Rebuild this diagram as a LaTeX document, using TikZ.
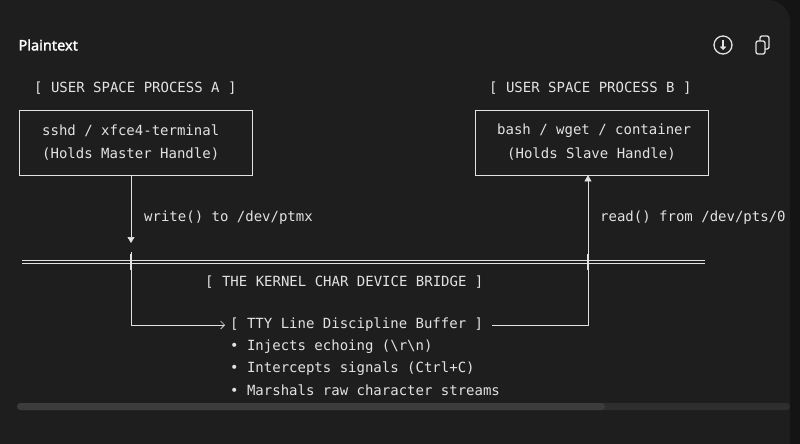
\documentclass[tikz,border=0pt]{standalone}
\usepackage{fontspec}
\setmonofont{DejaVu Sans Mono}
\newfontfamily\uifont{Noto Sans}[FakeBold=1.6]
\usetikzlibrary{arrows.meta,positioning}
\definecolor{panelbg}{HTML}{1E1E1E}
\definecolor{outerbg}{HTML}{141414}
\definecolor{ink}{HTML}{E2E2E2}
\definecolor{barbg}{HTML}{2E2E2E}
\definecolor{barthumb}{HTML}{3C3C3C}
\begin{document}
\begin{tikzpicture}[x=1pt,y=-1pt,
    mono/.style={text=ink,font=\ttfamily\fontsize{14}{16}\selectfont,inner sep=0pt,anchor=west},
    box/.style={draw=ink,line width=0.7pt,minimum width=233pt,minimum height=65pt,inner sep=0pt},
    wire/.style={draw=ink,line width=0.7pt},
    rail/.style={draw=ink,line width=0.6pt}]
    \useasboundingbox (0,0) rectangle (800,444);
    \fill[outerbg] (0,0) rectangle (800,444);
    \fill[panelbg,rounded corners=22pt] (-30,0) rectangle (790,470);

    \node[anchor=west,text=white,font=\uifont\fontsize{14.5}{16}\selectfont] (title) at (15,45) {Plaintext};
    % header icons
    \draw[ink,line width=1.3pt] (723,45) circle (9pt);
    \draw[ink,line width=1.3pt,-{Straight Barb[length=2.5pt]}] (723,40) -- (723,50);
    \draw[ink,line width=1.3pt,rounded corners=2pt] (756,41) rectangle (765,54);
    \draw[ink,line width=1.3pt,rounded corners=2pt] (760,41) -- (760,36) -- (769,36) -- (769,49) -- (765,49);

    % processes
    \node[mono] (procA) at (34,88) {[ USER SPACE PROCESS A ]};
    \node[mono] (procB) at (489,88) {[ USER SPACE PROCESS B ]};
    \node[box] (boxA) at (135.5,142.5) {};
    \node[box] (boxB) at (591.5,142.5) {};
    \node[mono] (lineA1) at (42,131) {sshd / xfce4-terminal};
    \node[mono] (lineA2) at (42,154) {(Holds Master Handle)};
    \node[mono] (lineB1) at (497,131) {bash / wget / container};
    \node[mono] (lineB2) at (507,154) {(Holds Slave Handle)};

    % kernel bridge
    \coordinate (tapA) at (131,262);
    \coordinate (tapB) at (588,262);
    \coordinate (downA) at (131,325);
    \coordinate (downB) at (588,325);
    \draw[rail] (22,260.5) -- (705,260.5);
    \draw[rail] (22,263.5) -- (705,263.5);
    \draw[wire,-{Triangle[width=7pt,length=6pt]}] (boxA.south -| tapA) -- (131,243);
    \draw[wire,-{Triangle[width=7pt,length=6pt]}] (tapB) -- (boxB.south -| tapB);
    \draw[wire] (131,252) -- (tapA);
    \draw[wire,line width=1.2pt] (131,254) -- (131,270);
    \draw[wire,line width=1.2pt] (588,254) -- (588,270);
    \node[mono] (writeLbl) at (144,218) {write() to /dev/ptmx};
    \node[mono] (readLbl) at (600,218) {read() from /dev/pts/0};
    \node[mono] (bridge) at (205,282) {[ THE KERNEL CHAR DEVICE BRIDGE ]};

    % line discipline
    \node[mono] (buffer) at (230,325) {[ TTY Line Discipline Buffer ]};
    \draw[wire,-{Straight Barb[length=4pt,width=8pt]}] (tapA) -- (downA) -- ([xshift=-5pt]buffer.west);
    \draw[wire] (tapB) -- (downB) -- ([xshift=9pt]buffer.east);
    \node[mono] (echo) at (230,347) {• Injects echoing (\textbackslash r\textbackslash n)};
    \node[mono] (signals) at (230,369) {• Intercepts signals (Ctrl+C)};
    \node[mono] (streams) at (230,390) {• Marshals raw character streams};

    % scrollbar
    \fill[barbg,rounded corners=3.5pt] (17,403) rectangle (790,410);
    \fill[barthumb,rounded corners=3.5pt] (17,403) rectangle (605,410);
\end{tikzpicture}
\end{document}
